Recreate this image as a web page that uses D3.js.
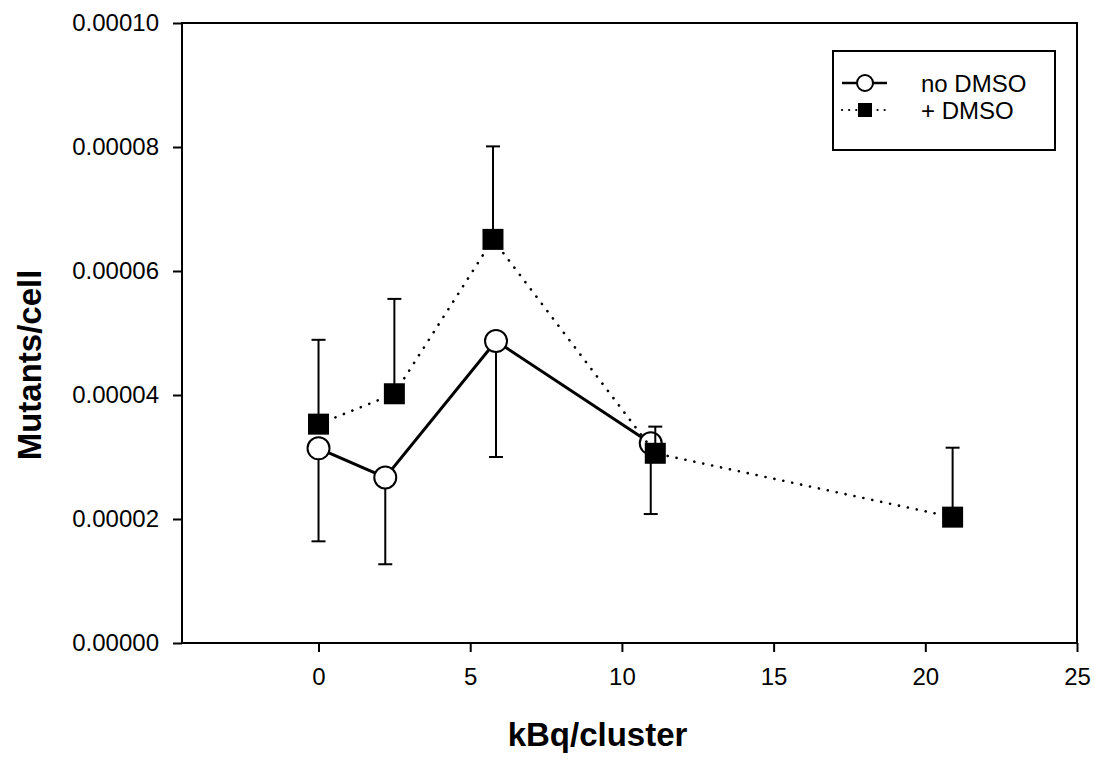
<!DOCTYPE html>
<html>
<head>
<meta charset="utf-8">
<script src="https://cdn.jsdelivr.net/npm/d3@7"></script>
<style>
    body { margin: 0; background: #fff; }
    text { font-family: Arial, "Liberation Sans", sans-serif; fill: #000; }
    .tick_label { font-size: 24px; }
    .axis_title { font-size: 33px; font-weight: bold; }
    .legendText { font-size: 24px; }
</style>
</head>
<body>
<div class="mutants_chart"></div>
<script>

// kBq/cluster values and mutants/cell
const noDmsoX = [0, 2.2, 5.85, 10.95]
const noDmsoY = [3.14e-5, 2.67e-5, 4.87e-5, 3.22e-5]
const noDmsoLow = [1.64e-5, 1.27e-5, 3.0e-5, 2.08e-5]

const dmsoX = [0, 2.5, 5.75, 11.1, 20.9]
const dmsoY = [3.53e-5, 4.02e-5, 6.51e-5, 3.06e-5, 2.03e-5]
const dmsoHigh = [4.89e-5, 5.55e-5, 8.01e-5, 3.49e-5, 3.15e-5]

const xTicks = [0, 5, 10, 15, 20, 25]
const yTicks = [0, 0.00002, 0.00004, 0.00006, 0.00008, 0.0001]

const legendLabels = ["no DMSO", "+ DMSO"]

function drawMutants() {

    const width = 1094
    const height = 762
    const margin = { top: 23, right: 17, bottom: 119, left: 182 }

    const svg = d3.select(".mutants_chart")
        .append("svg")
        .attr("width", width)
        .attr("height", height)

    const xScale = d3.scaleLinear()
        .domain([-4.5, 25])
        .range([margin.left, width - margin.right])

    const yScale = d3.scaleLinear()
        .domain([0, 0.0001])
        .range([height - margin.bottom, margin.top])

    const noDmso = noDmsoX.map((x, i) => ({ x: x, y: noDmsoY[i], err: noDmsoLow[i] }))
    const dmso = dmsoX.map((x, i) => ({ x: x, y: dmsoY[i], err: dmsoHigh[i] }))

    // axes
    const xAxis = d3.axisBottom(xScale)
        .tickValues(xTicks)
        .tickSize(9)
        .tickPadding(16)
        .tickFormat(d3.format("d"))

    const yAxis = d3.axisLeft(yScale)
        .tickValues(yTicks)
        .tickSize(9)
        .tickPadding(14)
        .tickFormat(d3.format(".5f"))

    const xAxisGroup = svg.append("g")
        .attr("transform", `translate(0, ${height - margin.bottom})`)
        .call(xAxis)

    const yAxisGroup = svg.append("g")
        .attr("transform", `translate(${margin.left}, 0)`)
        .call(yAxis)

    for (const g of [xAxisGroup, yAxisGroup]) {
        g.select(".domain").remove()
        g.selectAll(".tick line").attr("stroke", "#000").attr("stroke-width", 2)
        g.selectAll(".tick text")
            .attr("class", "tick_label")
            .attr("fill", "#000")
            .style("font-family", "Arial, 'Liberation Sans', sans-serif")
    }

    // frame round the plot
    svg.append("rect")
        .attr("x", xScale.range()[0])
        .attr("y", yScale.range()[1])
        .attr("width", xScale.range()[1] - xScale.range()[0])
        .attr("height", yScale.range()[0] - yScale.range()[1])
        .attr("fill", "none")
        .attr("stroke", "#000")
        .attr("stroke-width", 2)

    // axis titles
    svg.append("text")
        .attr("class", "axis_title")
        .attr("x", (xScale.range()[0] + xScale.range()[1]) / 2 - 32)
        .attr("y", 746)
        .attr("text-anchor", "middle")
        .text("kBq/cluster")

    svg.append("text")
        .attr("class", "axis_title")
        .attr("transform", `translate(41, ${(yScale.range()[0] + yScale.range()[1]) / 2 + 32}) rotate(-90)`)
        .attr("text-anchor", "middle")
        .text("Mutants/cell")

    const line = d3.line()
        .x(d => xScale(d.x))
        .y(d => yScale(d.y))

    const plot = svg.append("g")

    // no DMSO: solid line, open circles, bars going down
    plot.selectAll(".err_open")
        .data(noDmso)
        .join("g")
        .attr("class", "err_open")
        .each(function(d) {
            const g = d3.select(this)
            g.append("line")
                .attr("x1", xScale(d.x)).attr("x2", xScale(d.x))
                .attr("y1", yScale(d.y)).attr("y2", yScale(d.err))
                .attr("stroke", "#000").attr("stroke-width", 2)
            g.append("line")
                .attr("x1", xScale(d.x) - 7).attr("x2", xScale(d.x) + 7)
                .attr("y1", yScale(d.err)).attr("y2", yScale(d.err))
                .attr("stroke", "#000").attr("stroke-width", 2)
        })

    plot.append("path")
        .datum(noDmso)
        .attr("d", line)
        .attr("fill", "none")
        .attr("stroke", "#000")
        .attr("stroke-width", 3)

    plot.selectAll(".circle_open")
        .data(noDmso)
        .join("circle")
        .attr("class", "circle_open")
        .attr("cx", d => xScale(d.x))
        .attr("cy", d => yScale(d.y))
        .attr("r", 11)
        .attr("fill", "#fff")
        .attr("stroke", "#000")
        .attr("stroke-width", 2)

    // + DMSO: dotted line, filled squares, bars going up
    plot.append("path")
        .datum(dmso)
        .attr("d", line)
        .attr("fill", "none")
        .attr("stroke", "#000")
        .attr("stroke-width", 2.6)
        .attr("stroke-linecap", "round")
        .attr("stroke-dasharray", "0.1 9")

    plot.selectAll(".err_filled")
        .data(dmso)
        .join("g")
        .attr("class", "err_filled")
        .each(function(d) {
            const g = d3.select(this)
            g.append("line")
                .attr("x1", xScale(d.x)).attr("x2", xScale(d.x))
                .attr("y1", yScale(d.y)).attr("y2", yScale(d.err))
                .attr("stroke", "#000").attr("stroke-width", 2)
            g.append("line")
                .attr("x1", xScale(d.x) - 7).attr("x2", xScale(d.x) + 7)
                .attr("y1", yScale(d.err)).attr("y2", yScale(d.err))
                .attr("stroke", "#000").attr("stroke-width", 2)
        })

    plot.selectAll(".square_filled")
        .data(dmso)
        .join("rect")
        .attr("class", "square_filled")
        .attr("x", d => xScale(d.x) - 10.5)
        .attr("y", d => yScale(d.y) - 10.5)
        .attr("width", 21)
        .attr("height", 21)
        .attr("fill", "#000")

    // legend
    const legendGroup = svg.append("g")
        .attr("class", "legendGroup")
        .attr("transform", "translate(833, 51)")

    legendGroup.append("rect")
        .attr("width", 222)
        .attr("height", 99)
        .attr("fill", "#fff")
        .attr("stroke", "#000")
        .attr("stroke-width", 2)

    const rowY = [32, 59]

    legendGroup.append("line")
        .attr("x1", 9).attr("x2", 54)
        .attr("y1", rowY[0]).attr("y2", rowY[0])
        .attr("stroke", "#000").attr("stroke-width", 2.5)

    legendGroup.append("circle")
        .attr("cx", 32).attr("cy", rowY[0]).attr("r", 8)
        .attr("fill", "#fff").attr("stroke", "#000").attr("stroke-width", 2)

    legendGroup.append("line")
        .attr("x1", 9).attr("x2", 54)
        .attr("y1", rowY[1]).attr("y2", rowY[1])
        .attr("stroke", "#000").attr("stroke-width", 2.2)
        .attr("stroke-linecap", "round")
        .attr("stroke-dasharray", "0.1 7")

    legendGroup.append("rect")
        .attr("x", 25).attr("y", rowY[1] - 7)
        .attr("width", 14).attr("height", 14)
        .attr("fill", "#000")

    legendGroup.selectAll(".legendText")
        .data(legendLabels)
        .join("text")
        .attr("class", "legendText")
        .attr("x", 88)
        .attr("y", (d, i) => rowY[i] + 8.5)
        .text(d => d)
}

drawMutants()
</script>
</body>
</html>
